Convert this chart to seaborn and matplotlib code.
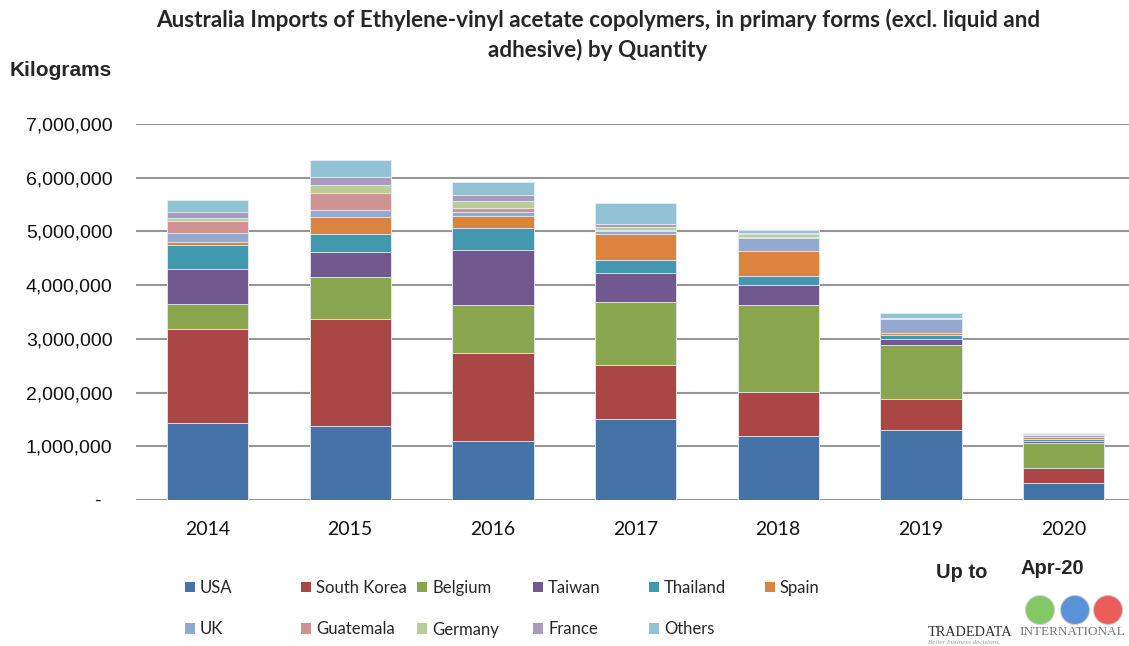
import numpy as np
import pandas as pd
import matplotlib
matplotlib.use("Agg")
import matplotlib.pyplot as plt
from matplotlib.patches import Patch, Ellipse
import seaborn as sns

# Import quantities by origin, in kilograms
years = ["2014", "2015", "2016", "2017", "2018", "2019", "2020"]
usa         = [1428000, 1372000, 1104000, 1508000, 1190000, 1310000, 310000]
south_korea = [1756000, 1998000, 1627000, 1006000,  827000,  570000, 280000]
belgium     = [ 465000,  788000,  906000, 1166000, 1607000, 1000000, 465000]
taiwan      = [ 652000,  459000, 1024000,  553000,  385000,  112000,  50000]
thailand    = [ 453000,  342000,  403000,  242000,  168000,   74000,  30000]
spain       = [  55000,  316000,  230000,  471000,  459000,   50000,  43000]
uk          = [ 156000,  124000,   62000,   62000,  248000,  249000,  30000]
guatemala   = [ 236000,  323000,   87000,   10000,    5000,    5000,   3000]
germany     = [  56000,  149000,  130000,   60000,   69000,   15000,   5000]
france      = [ 105000,  143000,  106000,   68000,   10000,   12000,   6000]
others      = [ 230000,  310000,  242000,  378000,   58000,   80000,  30000]

countries = ["USA", "South Korea", "Belgium", "Taiwan", "Thailand", "Spain",
             "UK", "Guatemala", "Germany", "France", "Others"]
series = [usa, south_korea, belgium, taiwan, thailand, spain,
          uk, guatemala, germany, france, others]
colors = ["#4572A7", "#AA4643", "#89A54E", "#71588F", "#4198AF", "#DB843D",
          "#93A9CF", "#D19392", "#B9CD96", "#A99BBD", "#92C3D4"]

ytick_vals = [0, 1000000, 2000000, 3000000, 4000000, 5000000, 6000000, 7000000]
ytick_labels = ["-  "] + [f"{v:,}" for v in ytick_vals[1:]]

df = pd.DataFrame({c: s for c, s in zip(countries, series)}, index=years)
cum = df.cumsum(axis=1)

sns.set_theme(style="white")
plt.rcParams["font.family"] = ["Lato", "DejaVu Sans"]

W, H = 1129, 646
fig = plt.figure(figsize=(W / 100, H / 100), dpi=100)
ax = fig.add_axes([136.2 / W, (H - 500) / H, 1 - 136.2 / W, 376 / H])

# Stacked bars: draw cumulative totals from the top layer down
for country, color in reversed(list(zip(countries, colors))):
    long = pd.DataFrame({"year": years, "value": cum[country].values})
    sns.barplot(data=long, x="year", y="value", color=color, width=0.57,
                saturation=1, edgecolor="#e8eef5", linewidth=0.6, ax=ax,
                zorder=3)

ax.set_xlim(-0.5, -0.5 + (W - 136.2) / 142.67)
ax.set_ylim(0, 7000000)
ax.set_yticks(ytick_vals)
ax.set_yticklabels(ytick_labels, fontfamily="Liberation Sans", fontsize=14,
                   color="#111111")
ax.tick_params(axis="y", length=0, pad=17)
ax.tick_params(axis="x", length=0, pad=15, labelsize=14, labelcolor="#111111")
ax.set_xlabel("")
ax.set_ylabel("")
ax.grid(axis="y", color="#969696", linewidth=1.5, zorder=0)
ax.set_axisbelow(True)
for s in ax.spines.values():
    s.set_visible(False)

# Title and unit label
fig.text(598 / W, 1 - 20 / H,
         "Australia Imports of Ethylene-vinyl acetate copolymers, in primary forms (excl. liquid and",
         ha="center", va="center", fontsize=16.2, fontweight="bold")
fig.text(598 / W, 1 - 50 / H, "adhesive) by Quantity",
         ha="center", va="center", fontsize=16.2, fontweight="bold")
fig.text(10 / W, 1 - 70 / H, "Kilograms", ha="left", va="center",
         fontsize=15, fontweight="bold", fontfamily="Liberation Sans")

# Legend laid out on a fixed grid, one column of two entries each
handles = [Patch(facecolor=c, edgecolor="none") for c in colors]
col_items = [[0, 6], [1, 7], [2, 8], [3, 9], [4, 10], [5]]
for i, items in enumerate(col_items):
    fig.legend([handles[k] for k in items], [countries[k] for k in items],
               loc="upper left", bbox_to_anchor=((185 + 116 * i) / W, 1 - 580 / H),
               frameon=False, fontsize=12, handlelength=0.6, handleheight=0.6,
               handletextpad=0.3, labelspacing=1.53, borderpad=0,
               borderaxespad=0)

# Period note
fig.text(962 / W, 1 - 573 / H, "Up to", ha="center", va="center",
         fontsize=14.5, fontweight="bold", fontfamily="Liberation Sans")
fig.text(1052 / W, 1 - 569 / H, "Apr-20", ha="center", va="center",
         fontsize=14.5, fontweight="bold", fontfamily="Liberation Sans")

# Company mark
for cx, col in [(1040, "#6cc04a"), (1075, "#3d7fd0"), (1108, "#e8413c")]:
    fig.add_artist(Ellipse((cx / W, 1 - 610 / H), 29 / W, 29 / H,
                           transform=fig.transFigure, facecolor=col,
                           edgecolor="#cccccc", linewidth=0.8, alpha=0.85))
fig.text(928 / W, 1 - 632 / H, "TRADEDATA", ha="left", va="center",
         fontsize=10.3, fontfamily="Liberation Serif", color="#333333")
fig.text(1019 / W, 1 - 632 / H, "INTERNATIONAL", ha="left", va="center",
         fontsize=9.5, fontfamily="Liberation Serif", color="#777777")
fig.text(928 / W, 1 - 642 / H, "Better business decisions.", ha="left",
         va="center", fontsize=5, fontstyle="italic",
         fontfamily="Liberation Serif", color="#999999")

fig.savefig("out.png", dpi=100)
